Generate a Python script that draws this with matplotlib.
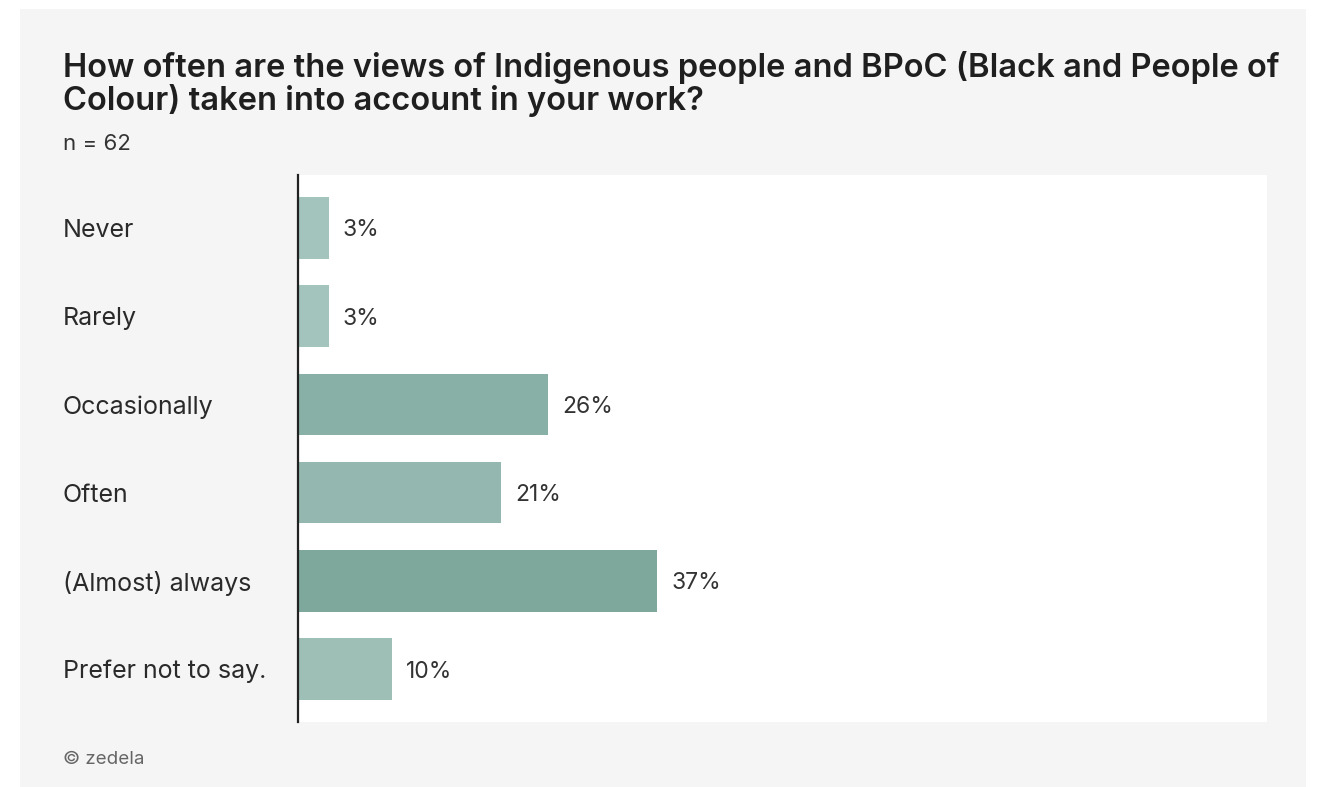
import matplotlib.pyplot as plt
import matplotlib.transforms as mtransforms
from matplotlib.patches import Rectangle

plt.rcParams['font.family'] = ['Inter', 'DejaVu Sans']

categories = ['Never', 'Rarely', 'Occasionally', 'Often', '(Almost) always', 'Prefer not to say.']
# share of respondents in percent (n = 62)
values = [3.2, 3.2, 25.8, 21.0, 37.1, 9.7]
bar_colors = ['#a3c4bc', '#a3c4bc', '#89b0a6', '#94b8af', '#7fa89d', '#9dbfb6']

title = ('How often are the views of Indigenous people and BPoC (Black and People of\n'
         'Colour) taken into account in your work?')
subtitle = 'n = 62'
credit = '\u00a9 zedela'

W, H = 1318, 787
fig = plt.figure(figsize=(W / 100, H / 100), dpi=100)
fig.patch.set_facecolor('white')

# light grey card behind everything
fig.patches.append(Rectangle((20 / W, 0), (1306 - 20) / W, 1 - 9 / H,
                             transform=fig.transFigure, facecolor='#f5f5f5',
                             edgecolor='none', zorder=-1))

ax = fig.add_axes([298 / W, 1 - 722 / H, 969 / W, 547 / H])
ax.set_facecolor('white')

y = list(range(len(categories)))
ax.barh(y, values, height=0.7, color=bar_colors, zorder=2)
ax.set_xlim(0, 100)
ax.set_ylim(len(categories) - 0.4, -0.6)

for s in ['top', 'right', 'bottom']:
    ax.spines[s].set_visible(False)
ax.spines['left'].set_color('#222222')
ax.spines['left'].set_linewidth(1.6)
ax.set_xticks([])
ax.set_yticks([])

# category labels on the card, left aligned
trans = mtransforms.blended_transform_factory(fig.transFigure, ax.transData)
for i, cat in enumerate(categories):
    fig.text(63 / W, i, cat, transform=trans, ha='left', va='center_baseline',
             fontsize=18, color='#2a2a2a')

for i, v in enumerate(values):
    ax.annotate(f'{v:.0f}%', xy=(v, i), xytext=(10, 0), textcoords='offset points',
                ha='left', va='center_baseline', fontsize=16.5, color='#333333')

fig.text(63 / W, 1 - 51 / H, title, ha='left', va='top', fontsize=23.5,
         fontweight='semibold', color='#1f1f1f', linespacing=1.0)
fig.text(63 / W, 1 - 144 / H, subtitle, ha='left', va='center', fontsize=16,
         color='#333333')
fig.text(63 / W, 1 - 759 / H, credit, ha='left', va='center', fontsize=13.5,
         color='#666666')

fig.savefig('out.png', dpi=100)
